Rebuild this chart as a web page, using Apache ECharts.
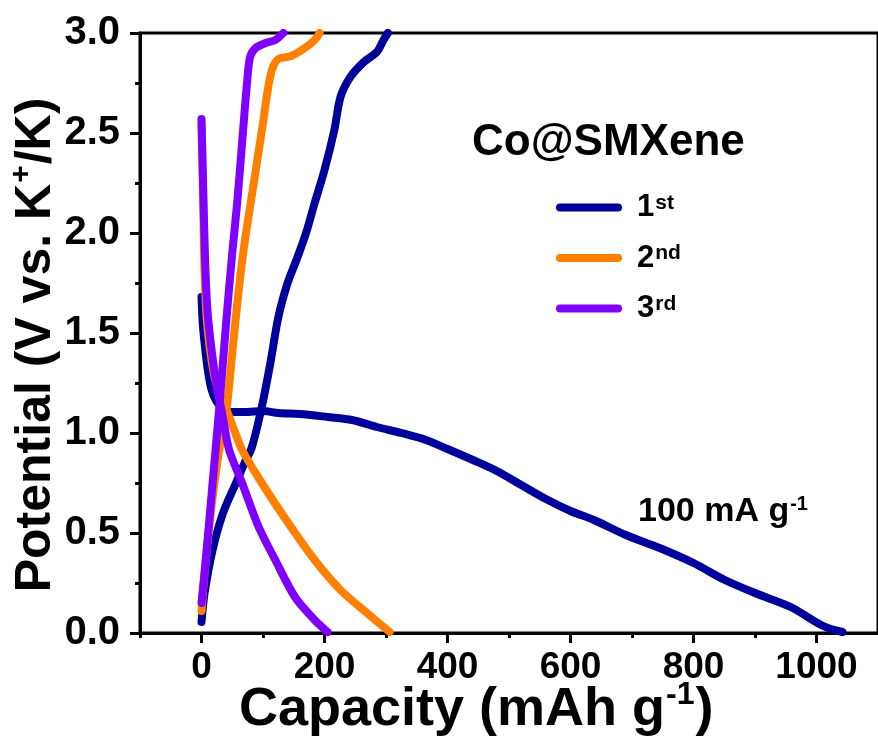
<!DOCTYPE html>
<html>
<head>
<meta charset="utf-8">
<style>
  html, body { margin: 0; padding: 0; background: #ffffff; }
  #chart { width: 878px; height: 745px; }
</style>
<script src="https://cdn.jsdelivr.net/npm/echarts@6.0.0/dist/echarts.min.js"></script>
</head>
<body>
<div id="chart"></div>
<script>
// Galvanostatic discharge / charge profiles of Co@SMXene at 100 mA g-1
// capacity in mAh g-1, potential in V vs. K+/K

const cycleNames = ['1st', '2nd', '3rd'];
const cycleColors = ['#00009A', '#FF8000', '#8000FF'];

// 1st cycle
const cap1Discharge = [0, 2, 5, 10, 16, 24, 35, 45, 70, 100, 125, 160, 205, 245, 285, 325, 365, 400, 445, 480, 520, 560, 600, 638, 690, 745, 800, 851, 900, 958, 1011, 1042];
const volt1Discharge = [1.68, 1.55, 1.45, 1.32, 1.22, 1.16, 1.12, 1.105, 1.105, 1.11, 1.10, 1.095, 1.08, 1.065, 1.03, 1.0, 0.965, 0.92, 0.86, 0.81, 0.74, 0.67, 0.61, 0.565, 0.49, 0.425, 0.35, 0.265, 0.2, 0.13, 0.035, 0.005];
const cap1Charge = [0, 5, 18, 35, 56, 70, 82, 98, 112, 125, 140, 155, 170, 184, 200, 216, 226, 242, 264, 285, 296, 303];
const volt1Charge = [0.055, 0.2, 0.415, 0.6, 0.75, 0.85, 0.93, 1.13, 1.35, 1.58, 1.75, 1.87, 2.0, 2.15, 2.315, 2.515, 2.68, 2.78, 2.855, 2.905, 2.965, 3.0];

// 2nd cycle
const cap2Discharge = [0, 3, 5, 9, 17, 28, 40, 55, 66, 98, 141, 184, 226, 269, 306];
const volt2Discharge = [2.55, 2.1, 1.8, 1.55, 1.35, 1.2, 1.12, 1.0, 0.915, 0.75, 0.55, 0.365, 0.215, 0.1, 0.005];
const cap2Charge = [0, 5, 15, 28, 40, 50, 60, 70, 80, 90, 100, 108, 115, 125, 146, 168, 184, 192];
const volt2Charge = [0.11, 0.3, 0.6, 0.9, 1.1, 1.4, 1.7, 1.95, 2.15, 2.35, 2.55, 2.72, 2.82, 2.87, 2.885, 2.925, 2.965, 3.0];

// 3rd cycle
const cap3Discharge = [0, 3, 6, 10, 17, 24, 34, 45, 66, 93, 120, 152, 184, 205];
const volt3Discharge = [2.57, 2.2, 1.85, 1.6, 1.4, 1.25, 1.09, 0.915, 0.75, 0.53, 0.365, 0.18, 0.065, 0.005];
const cap3Charge = [0, 8, 18, 29, 40, 50, 58, 66, 74, 79, 88, 104, 120, 133];
const volt3Charge = [0.15, 0.4, 0.75, 1.13, 1.55, 1.9, 2.15, 2.45, 2.75, 2.88, 2.925, 2.95, 2.965, 3.0];

// axis ticks
const xTicks = [0, 200, 400, 600, 800, 1000];
const xMinorTicks = [-100, 100, 300, 500, 700, 900];

const segments = [
  [cap1Discharge, volt1Discharge, 0],
  [cap1Charge, volt1Charge, 0],
  [cap2Discharge, volt2Discharge, 1],
  [cap2Charge, volt2Charge, 1],
  [cap3Discharge, volt3Discharge, 2],
  [cap3Charge, volt3Charge, 2]
];

const zip = (xs, ys) => xs.map((x, i) => [x, ys[i]]);

const boldFont = "'Liberation Sans', Arial, sans-serif";
const narrowFont = "'Liberation Sans Narrow', 'Arial Narrow', 'Liberation Sans', sans-serif";

const chart = echarts.init(document.getElementById('chart'), null, { renderer: 'canvas' });

chart.setOption({
  animation: false,
  backgroundColor: '#ffffff',
  grid: {
    left: 140, right: -10, top: 33, bottom: 112,
    show: true, borderColor: '#000', borderWidth: 3, backgroundColor: 'transparent'
  },
  xAxis: [
    {
      type: 'value', min: -100, max: 1100, position: 'bottom',
      axisLine: { show: true, onZero: false, lineStyle: { color: '#000', width: 3 } },
      axisTick: { show: true, inside: false, length: 10, customValues: xTicks, lineStyle: { color: '#000', width: 3 } },
      axisLabel: {
        show: true, customValues: xTicks, margin: 16,
        color: '#000', fontSize: 37, fontWeight: 'bold', fontFamily: narrowFont,
        formatter: v => String(v)
      },
      splitLine: { show: false }
    },
    {
      type: 'value', min: -100, max: 1100, position: 'bottom',
      axisLine: { show: false, onZero: false },
      axisTick: { show: true, inside: false, length: 5, customValues: xMinorTicks, lineStyle: { color: '#000', width: 3 } },
      axisLabel: { show: false },
      splitLine: { show: false }
    }
  ],
  yAxis: {
    type: 'value', min: 0, max: 3, interval: 0.5,
    axisLine: { show: true, onZero: false, lineStyle: { color: '#000', width: 3 } },
    axisTick: { show: true, inside: false, length: 10, lineStyle: { color: '#000', width: 3 } },
    minorTick: { show: true, splitNumber: 2, length: 5, lineStyle: { color: '#000', width: 3 } },
    axisLabel: {
      margin: 20, color: '#000', fontSize: 40, fontWeight: 'bold', fontFamily: boldFont,
      formatter: v => v.toFixed(1)
    },
    splitLine: { show: false }
  },
  legend: {
    data: cycleNames,
    orient: 'vertical',
    left: 551, top: 187,
    itemWidth: 66, itemHeight: 8, itemGap: 19.5,
    icon: 'path://M4,0 H62 A4,4 0 0 1 62,8 H4 A4,4 0 0 1 4,0 Z',
    selectedMode: false,
    formatter: name => '{n|' + name.charAt(0) + '}{s|' + name.slice(1) + '}',
    textStyle: {
      rich: {
        n: { fontSize: 31, fontWeight: 'bold', fontFamily: boldFont, color: '#000', lineHeight: 30, padding: [0, 0, 0, 10] },
        s: { fontSize: 21, fontWeight: 'bold', fontFamily: boldFont, color: '#000', lineHeight: 16, verticalAlign: 'top', padding: [0, 0, 0, 1] }
      }
    }
  },
  graphic: [
    {
      type: 'text', left: 472, top: 121,
      style: { text: 'Co@SMXene', fill: '#000', font: "bold 44px 'Liberation Sans', Arial, sans-serif" }
    },
    {
      type: 'text', left: 638, top: 494,
      style: {
        text: '{a|100 mA g}{b|-1}',
        rich: {
          a: { fontSize: 34, fontWeight: 'bold', fontFamily: boldFont, fill: '#000', lineHeight: 36 },
          b: { fontSize: 20, fontWeight: 'bold', fontFamily: boldFont, fill: '#000', lineHeight: 36, verticalAlign: 'top', padding: [0, 0, 14, 1] }
        }
      }
    },
    {
      type: 'text', left: 239, top: 679,
      style: {
        text: '{a|Capacity (mAh g}{b|-1}{a|)}',
        rich: {
          a: { fontSize: 54, fontWeight: 'bold', fontFamily: boldFont, fill: '#000', lineHeight: 62 },
          b: { fontSize: 32, fontWeight: 'bold', fontFamily: boldFont, fill: '#000', lineHeight: 62, verticalAlign: 'top', padding: [0, 1, 24, 1] }
        }
      }
    },
    {
      type: 'text', x: 36, y: 345, rotation: Math.PI / 2,
      style: {
        text: '{a|Potential (V vs. K}{b|+}{a|/K)}',
        align: 'center', verticalAlign: 'middle',
        rich: {
          a: { fontSize: 50, fontWeight: 'bold', fontFamily: boldFont, fill: '#000', lineHeight: 58 },
          b: { fontSize: 30, fontWeight: 'bold', fontFamily: boldFont, fill: '#000', lineHeight: 58, verticalAlign: 'top', padding: [0, 1, 22, 1] }
        }
      }
    }
  ],
  series: segments.map(([caps, volts, k]) => ({
    type: 'line',
    name: cycleNames[k],
    xAxisIndex: 0,
    data: zip(caps, volts),
    showSymbol: false,
    symbol: 'none',
    smooth: 0.3,
    color: cycleColors[k],
    lineStyle: { color: cycleColors[k], width: 8, cap: 'round', join: 'round' },
    z: 2 + k
  }))
});
</script>
</body>
</html>
